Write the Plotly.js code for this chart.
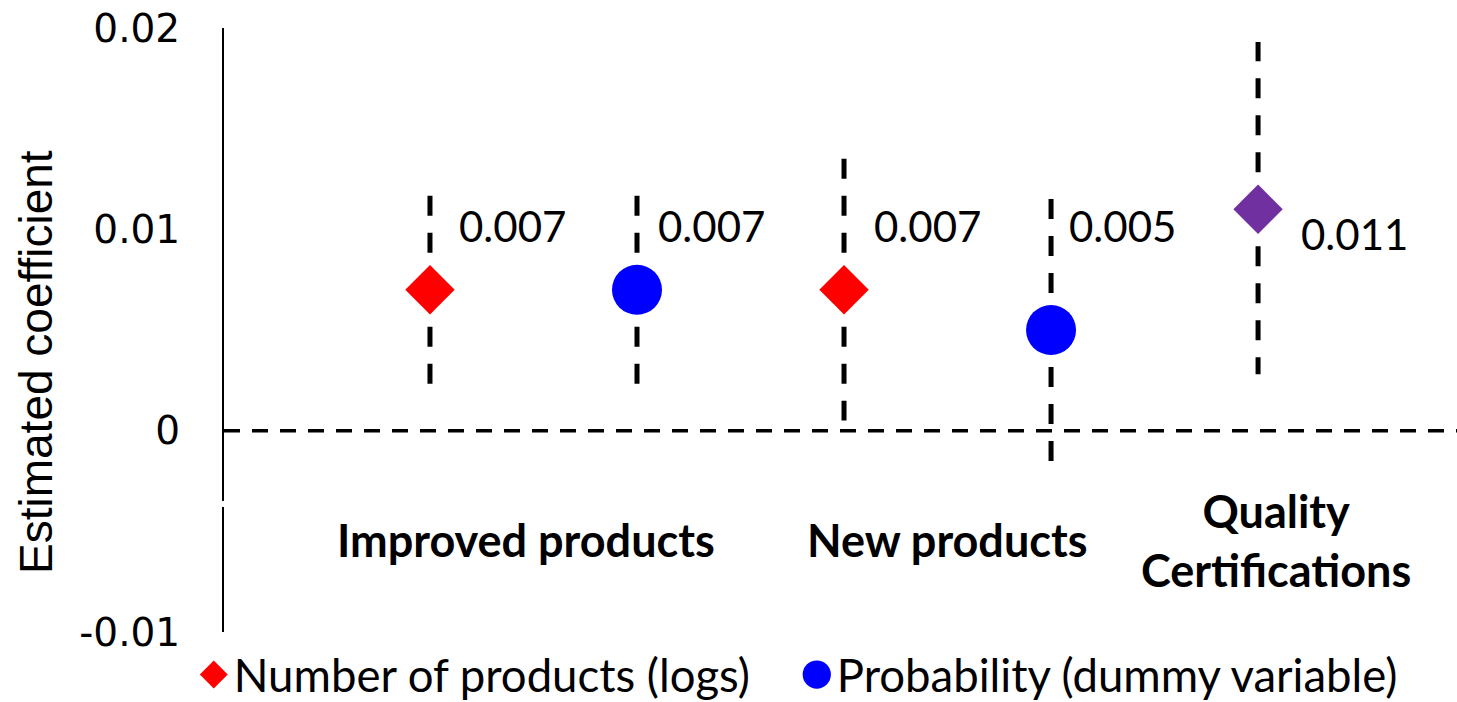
<!DOCTYPE html>
<html>
<head>
<meta charset="utf-8">
<script src="https://cdn.plot.ly/plotly-3.0.1.min.js"></script>
<style>
  html, body { margin: 0; padding: 0; background: #ffffff; }
  #chart { width: 1457px; height: 702px; }
</style>
</head>
<body>
<div id="chart"></div>
<script>
// One estimate per marker, left to right
const estimates = ['Improved products (logs)', 'Improved products (dummy)', 'New products (logs)', 'New products (dummy)', 'Quality Certifications'];
const coef = [0.007, 0.007, 0.007, 0.005, 0.011];
const ciUpper = [0.0118, 0.0118, 0.0136, 0.0116, 0.0193];
const ciLower = [0.0023, 0.0023, 0.0005, -0.0016, 0.0028];
const seriesOf = ['logs', 'dummy', 'logs', 'dummy', 'quality'];

// Series shown in the legend (quality certifications is a single, unlisted marker)
const seriesKeys = ['logs', 'dummy', 'quality'];
const seriesLabels = ['Number of products (logs)', 'Probability (dummy variable)', 'Quality Certifications'];
const seriesInLegend = [true, true, false];

// Outcome group captions under the markers
const groupLabels = ['Improved products', 'New products', 'Quality<br>Certifications'];

// Y axis ticks
const yTickVals = [-0.01, 0, 0.01, 0.02];
const yTickText = ['-0.01', '0', '0.01', '0.02'];

// ---- styling ----
const markerStyle = {
  logs:    { symbol: 'diamond', color: '#FF0000', size: 38 },
  dummy:   { symbol: 'circle',  color: '#0000FF', size: 50 },
  quality: { symbol: 'diamond', color: '#7030A0', size: 38 }
};
const LEGEND_SYMBOL_RATIO = 0.565;   // legend symbols relative to plotted markers
const labelDx = [27, 19, 28, 16, 41];
const labelDy = [64, 64, 64, 104, -25];
const groupX = [0.464, 2.498, 4.087];
const FONT = 'Lato, "Open Sans", sans-serif';

const traces = [];

// Confidence intervals: dashed lines drawn outward from the estimate
coef.forEach((c, i) => {
  [ciUpper[i], ciLower[i]].forEach(end => {
    traces.push({
      type: 'scatter', mode: 'lines',
      x: [estimates[i], estimates[i]], y: [c, end],
      line: { color: '#000000', width: 5, dash: '20px,17px' },
      showlegend: false, hoverinfo: 'skip'
    });
  });
});

// Point estimates
seriesKeys.forEach((key, k) => {
  const idx = seriesOf.map((s, i) => s === key ? i : -1).filter(i => i >= 0);
  const st = markerStyle[key];
  traces.push({
    type: 'scatter', mode: 'markers',
    name: seriesLabels[k],
    x: idx.map(i => estimates[i]),
    y: idx.map(i => coef[i]),
    marker: { symbol: st.symbol, color: st.color, size: st.size, line: { width: 0 } },
    showlegend: seriesInLegend[k]
  });
});

const annotations = [];

// Value labels
coef.forEach((c, i) => {
  annotations.push({
    x: estimates[i], y: c, xref: 'x', yref: 'y',
    text: c.toFixed(3), showarrow: false,
    xanchor: 'left', yanchor: 'middle',
    xshift: labelDx[i], yshift: labelDy[i],
    font: { family: FONT, size: 42, color: '#000000' }
  });
});

// Outcome captions
groupLabels.forEach((g, j) => {
  annotations.push({
    x: groupX[j], y: 0.152, xref: 'x', yref: 'paper',
    text: '<b>' + g + '</b>', showarrow: false,
    xanchor: 'center', yanchor: 'middle',
    font: { family: FONT, size: 45, color: '#000000' }
  });
});

// Y axis title
annotations.push({
  x: -0.1525, y: 0.447, xref: 'paper', yref: 'paper',
  text: 'Estimated coefficient', textangle: -90, showarrow: false,
  xanchor: 'center', yanchor: 'middle',
  font: { family: '"Liberation Sans", Arial, sans-serif', size: 46, color: '#000000' }
});

const layout = {
  width: 1457, height: 702,
  margin: { l: 224, r: 0, t: 28, b: 70, autoexpand: false },
  paper_bgcolor: '#ffffff', plot_bgcolor: '#ffffff',
  showlegend: true,
  xaxis: {
    type: 'category', categoryorder: 'array', categoryarray: estimates,
    range: [-0.995, 4.961],
    showticklabels: false, ticks: '', showgrid: false, zeroline: false, showline: false,
    fixedrange: true
  },
  yaxis: {
    range: [-0.01, 0.02],
    tickmode: 'array', tickvals: yTickVals, ticktext: yTickText,
    ticks: 'outside', ticklen: 34, tickcolor: 'rgba(0,0,0,0)',
    tickfont: { family: '"DejaVu Sans", sans-serif', size: 39, color: '#000000' },
    showline: true, linecolor: '#000000', linewidth: 2,
    showgrid: false, zeroline: false, fixedrange: true
  },
  shapes: [
    {
      // dashed zero reference line
      type: 'line', xref: 'paper', yref: 'y',
      x0: 0, x1: 1, y0: 0, y1: 0,
      line: { color: '#000000', width: 3.5, dash: '16px,12px' },
      layer: 'below'
    },
    {
      // small break in the vertical axis beside the captions
      type: 'rect', xref: 'paper', yref: 'paper',
      x0: -0.004, x1: 0.004, y0: 0.207, y1: 0.217,
      fillcolor: '#ffffff', line: { width: 0 }, layer: 'above'
    }
  ],
  legend: {
    orientation: 'h',
    xref: 'container', yref: 'container',
    x: 0.133, xanchor: 'left', y: 0.0385, yanchor: 'middle',
    font: { family: FONT, size: 45.5, color: '#000000' },
    itemsizing: 'trace', bgcolor: 'rgba(0,0,0,0)',
    entrywidth: 558, entrywidthmode: 'pixels'
  },
  annotations: annotations
};

Plotly.newPlot('chart', traces, layout, { displayModeBar: false, staticPlot: true }).then(gd => {
  // Legend symbols are capped in size by plotly; enlarge them in proportion to the markers
  gd.querySelectorAll('.legend .traces').forEach(item => {
    const d = item.__data__;
    const trace = d && d[0] && d[0].trace;
    if (!trace || !trace.marker) return;
    const target = trace.marker.size * LEGEND_SYMBOL_RATIO;
    const drawn = Math.min(trace.marker.size, 16);
    const k = target / drawn;
    item.querySelectorAll('.legendpoints path.scatterpts').forEach(p => {
      const t = p.getAttribute('transform') || '';
      p.setAttribute('transform', t + ' scale(' + k.toFixed(3) + ')');
    });
  });
});
</script>
</body>
</html>
